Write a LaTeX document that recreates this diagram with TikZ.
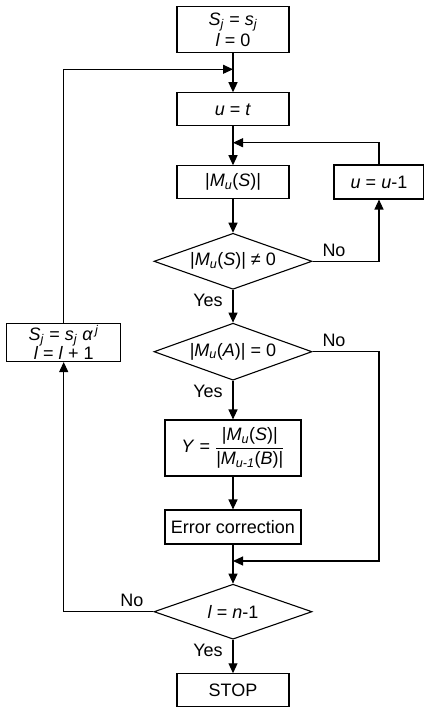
\documentclass[tikz,border=0pt]{standalone}
\usepackage{amsmath}
\usepackage{fontspec}
\setmainfont{Liberation Sans}
\usepackage{tikz}
\usetikzlibrary{shapes.geometric,arrows.meta,positioning,calc}

\newcommand{\vi}[1]{\textit{#1}}
\newcommand{\sub}[1]{\textsubscript{\textit{#1}}}

\begin{document}
\begin{tikzpicture}[x=1pt, y=-1pt,
    font=\fontsize{18}{21}\selectfont,
    box/.style={draw, line width=1.1pt, minimum width=112pt, minimum height=33pt, align=center, inner sep=2pt},
    decision/.style={draw, diamond, line width=1.1pt, aspect=2.8, inner sep=0pt, minimum width=158pt, minimum height=56pt},
    lbl/.style={inner sep=0pt},
    arrow/.style={-{Triangle[length=10pt,width=9pt]}, line width=1.1pt}
]
    \useasboundingbox (0,0) rectangle (423,708);

    \node[box, minimum height=46pt] (start) at (233,29.5) {\vi{S}\sub{j} = \vi{s}\sub{j}\\\vi{l} = 0};
    \node[box] (ut) at (233,109.3) {\vi{u} = \vi{t}};
    \node[box] (mus) at (233,182.3) {|\vi{M}\sub{u}(\vi{S})|};
    \node[box, minimum width=90pt, minimum height=34pt] (dec) at (379,182) {\vi{u} = \vi{u}-1};
    \node[decision] (nz) at (233,261.3) {|\vi{M}\sub{u}(\vi{S})| ≠ 0};
    \node[decision, minimum height=57pt] (za) at (233,351.7) {|\vi{M}\sub{u}(\vi{A})| = 0};
    \node[box, minimum width=136pt, minimum height=56pt] (ybox) at (233,448)
        {\vi{Y} = $\dfrac{\hbox{|\vi{M}\sub{u}(\vi{S})|}}{\hbox{|\vi{M}\sub{u-1}(\vi{B})|}}$};
    \node[box, minimum width=136pt, minimum height=34pt] (err) at (233,527) {Error correction};
    \node[decision, minimum height=55pt] (last) at (233,611.7) {\vi{l} = \vi{n}-1};
    \node[box] (stop) at (233,690.3) {STOP};
    \node[box, minimum width=114pt, minimum height=38pt, inner sep=1pt] (upd) at (63.7,342.5)
        {\vi{S}\sub{j} = \vi{s}\sub{j} \vi{α}\textsuperscript{\,\vi{j}}\\[-2pt]\vi{l} = \vi{l} + 1};

    \coordinate (j1) at (233,69.3);
    \coordinate (j2) at (233,142.7);
    \coordinate (j3) at (233,561);

    \draw[arrow] (start) -- (ut);
    \draw[arrow] (upd.north) |- (j1);
    \draw[arrow] (ut) -- (mus);
    \draw[arrow] (dec.north) |- (j2);
    \draw[arrow] (mus) -- (nz);
    \draw[arrow] (nz.east) -| (dec.south);
    \draw[arrow] (nz) -- (za);
    \draw[arrow] (za.east) -| (j3 -| dec.south) -- (j3);
    \draw[arrow] (za) -- (ybox);
    \draw[arrow] (ybox) -- (err);
    \draw[arrow] (err) -- (last);
    \draw[arrow] (last) -- (stop);
    \draw[arrow] (last.west) -| (upd.south);

    \node[lbl] (no1) at (334,250) {No};
    \node[lbl] (yes1) at (208,300) {Yes};
    \node[lbl] (no2) at (334,340) {No};
    \node[lbl] (yes2) at (208,391.5) {Yes};
    \node[lbl] (no3) at (132,600) {No};
    \node[lbl] (yes3) at (208,650.5) {Yes};
\end{tikzpicture}
\end{document}
